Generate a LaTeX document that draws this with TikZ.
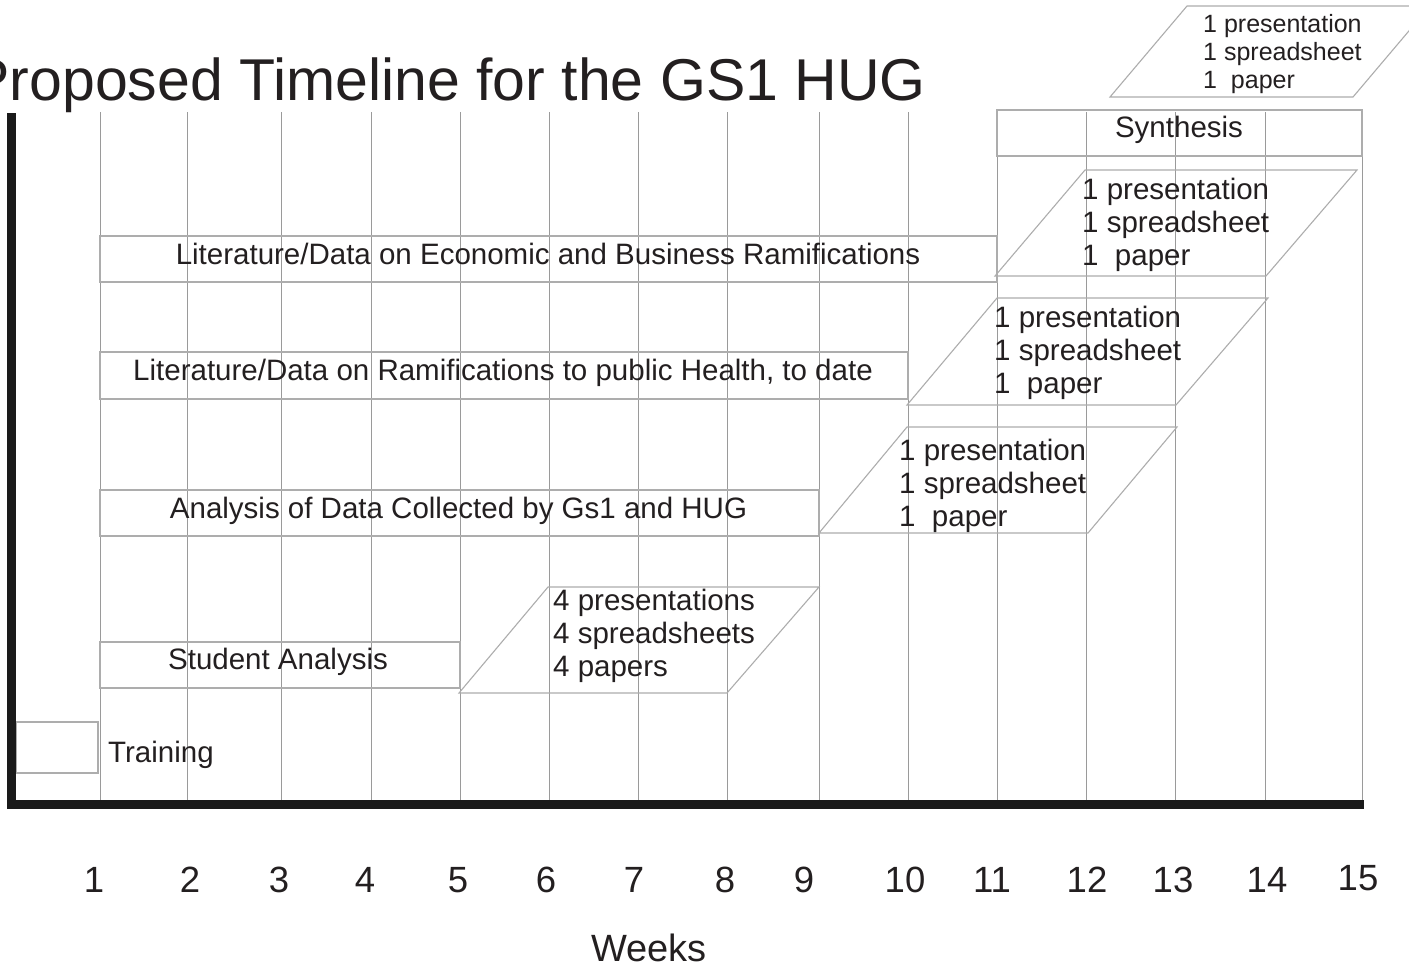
\documentclass[tikz,border=0pt]{standalone}
\usepackage{fontspec}
\setmainfont{Liberation Sans}
\definecolor{ink}{HTML}{231F20}
\definecolor{gridgray}{HTML}{9A9A9A}
\definecolor{boxgray}{HTML}{ADADAD}
\definecolor{axisblack}{HTML}{1A1A1A}
\begin{document}
\begin{tikzpicture}[x=1bp,y=-1bp,
  gridline/.style={draw=gridgray, line width=1bp},
  boxline/.style={draw=boxgray, line width=1.1bp},
  axisline/.style={draw=axisblack, line width=9bp, line join=miter},
  boxtext/.style={inner sep=0pt, text=ink, anchor=base, font=\fontsize{29.5bp}{33bp}\selectfont},
  listtext/.style={inner sep=0pt, text=ink, anchor=base west, font=\fontsize{29.5bp}{33bp}\selectfont},
  smalltext/.style={inner sep=0pt, text=ink, anchor=base west, font=\fontsize{25bp}{28bp}\selectfont},
  weektext/.style={inner sep=0pt, text=ink, anchor=base, font=\fontsize{36.5bp}{40bp}\selectfont},
  titletext/.style={inner sep=0pt, text=ink, anchor=base east, font=\fontsize{59bp}{64bp}\selectfont}
]
\useasboundingbox (0,0) rectangle (1409,968);
\fill[white] (0,0) rectangle (1409,968);
\begin{scope}
\clip (0,0) rectangle (1409,968);

% title
\node[titletext] (title) at (926,100) {Proposed Timeline for the GS1 HUG};

% grid
\foreach \gx in {100,187,281,371,460,549,638,727,819,908,997,1086,1175,1265}
  \draw[gridline] (\gx,112) -- (\gx,801);
\draw[gridline] (1362,110) -- (1362,801);

% activity boxes
\draw[boxline] (997,110) rectangle (1362,156);
\draw[boxline] (100,236) rectangle (997,282);
\draw[boxline] (100,352) rectangle (908,399);
\draw[boxline] (100,490) rectangle (819,536);
\draw[boxline] (100,642) rectangle (460,688);
\draw[boxline] (16,722) rectangle (98,773);

% deliverable parallelograms
\draw[boxline] (1110,97) -- (1353,97) -- (1430,6) -- (1187,6) -- cycle;
\draw[boxline] (995,276) -- (1266,276) -- (1357,170) -- (1085,170) -- cycle;
\draw[boxline] (907,405) -- (1176,405) -- (1268,298) -- (997,298) -- cycle;
\draw[boxline] (819,533) -- (1088,533) -- (1177,427) -- (907,427) -- cycle;
\draw[boxline] (459,693) -- (727,693) -- (819,587) -- (548,587) -- cycle;

% axes
\draw[axisline] (11.5,113) -- (11.5,804) -- (1364,804);

% activity labels
\node[boxtext] (synth) at (1179,137) {Synthesis};
\node[boxtext] (econ) at (548,264) {Literature/Data on Economic and Business Ramifications};
\node[boxtext] (health) at (503,380) {Literature/Data on Ramifications to public Health, to date};
\node[boxtext] (analysis) at (458.5,518) {Analysis of Data Collected by Gs1 and HUG};
\node[boxtext] (student) at (278,669) {Student Analysis};
\node[listtext] (training) at (108,762) {Training};

% deliverable labels
\node[smalltext] (t1) at (1203,32) {1 presentation};
\node[smalltext] (t2) at (1203,60) {1 spreadsheet};
\node[smalltext] (t3) at (1203,88) {1\ \ paper};

\node[listtext] (a1) at (1082,199) {1 presentation};
\node[listtext] (a2) at (1082,232) {1 spreadsheet};
\node[listtext] (a3) at (1082,265) {1\ \ paper};

\node[listtext] (b1) at (994,327) {1 presentation};
\node[listtext] (b2) at (994,360) {1 spreadsheet};
\node[listtext] (b3) at (994,393) {1\ \ paper};

\node[listtext] (c1) at (899,460) {1 presentation};
\node[listtext] (c2) at (899,493) {1 spreadsheet};
\node[listtext] (c3) at (899,526) {1\ \ paper};

\node[listtext] (d1) at (553,610) {4 presentations};
\node[listtext] (d2) at (553,643) {4 spreadsheets};
\node[listtext] (d3) at (553,676) {4 papers};

% week numbers
\foreach \wx/\wn in {94/1,190/2,279/3,365/4,458/5,546/6,634/7,725/8,804/9,905/10,992/11,1087/12,1173/13,1267/14}
  \node[weektext] (w\wn) at (\wx,892) {\wn};
\node[weektext] (w15) at (1358,890) {15};
\node[weektext, font=\fontsize{38bp}{42bp}\selectfont] (weeks) at (649,961) {Weeks};
\end{scope}
\end{tikzpicture}
\end{document}
